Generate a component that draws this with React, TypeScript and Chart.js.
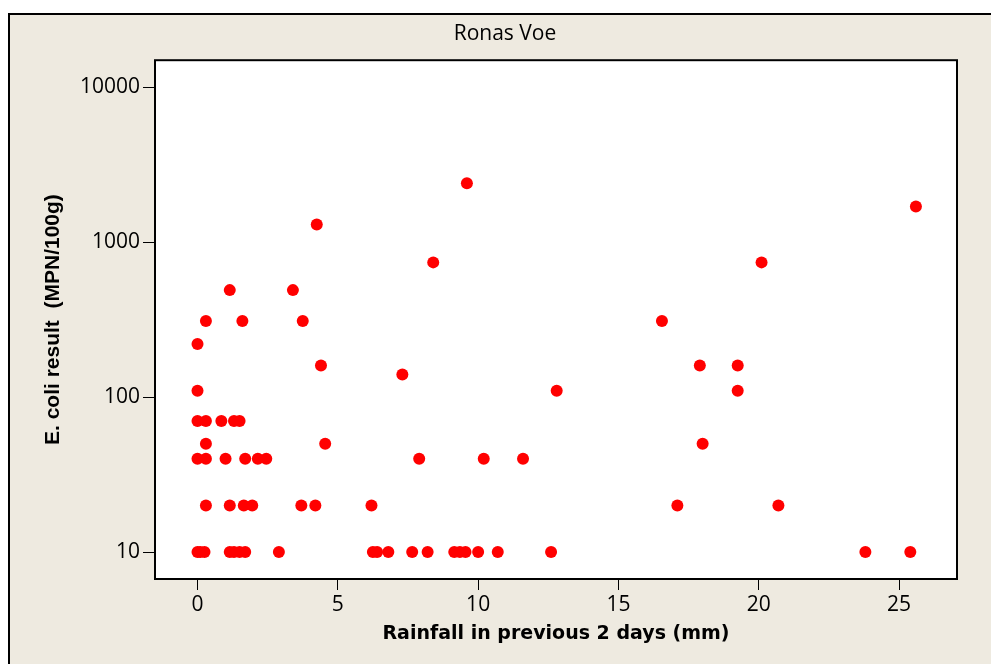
import React, { useEffect, useRef } from 'react';
import { Chart, registerables } from 'chart.js';

Chart.register(...registerables);

const chartTitle = 'Ronas Voe';
const xTitle = 'Rainfall in previous 2 days (mm)';
const yTitle = 'E. coli result  (MPN/100g)';

const rainfall = [
  0, 0, 0, 0.3, 0.85, 1.3, 1.5, 0.3, 4.55, 0, 0.3, 1.0, 1.7, 2.15, 2.45,
  0.3, 1.15, 1.65, 1.95, 3.7, 4.2, 6.2, 0, 0.1, 0.25, 1.15, 1.3, 1.5, 1.7, 2.9,
  1.15, 3.4, 0.3, 1.6, 3.75, 4.4, 4.25, 9.6, 8.4, 7.3, 12.8, 7.9, 10.2, 11.6,
  6.25, 6.4, 6.8, 7.65, 8.2, 9.15, 9.35, 9.55, 10.0, 10.7, 12.6,
  25.6, 20.1, 16.55, 17.9, 19.25, 19.25, 18.0, 17.1, 20.7, 23.8, 25.4,
];
const ecoli = [
  220, 110, 70, 70, 70, 70, 70, 50, 50, 40, 40, 40, 40, 40, 40,
  20, 20, 20, 20, 20, 20, 20, 10, 10, 10, 10, 10, 10, 10, 10,
  490, 490, 310, 310, 310, 160, 1300, 2400, 740, 140, 110, 40, 40, 40,
  10, 10, 10, 10, 10, 10, 10, 10, 10, 10, 10,
  1700, 740, 310, 160, 160, 110, 50, 20, 20, 10, 10,
];
const xTicks = [0, 5, 10, 15, 20, 25];
const yTicks = [10, 100, 1000, 10000];

const BG = '#EEEAE0';
const W = 991;
const H = 664;

const framePlugin = {
  id: 'frame',
  beforeDraw(chart: any) {
    const { ctx, width, height, chartArea } = chart;
    ctx.save();
    ctx.fillStyle = '#ffffff';
    ctx.fillRect(0, 0, width, height);
    ctx.fillStyle = BG;
    ctx.fillRect(8, 13, width - 8, height - 13);
    ctx.fillStyle = '#000000';
    ctx.fillRect(8, 13, 2, height - 13);
    ctx.fillRect(8, 13, width - 8, 2);
    ctx.fillStyle = '#ffffff';
    ctx.fillRect(chartArea.left, chartArea.top, chartArea.right - chartArea.left, chartArea.bottom - chartArea.top);
    ctx.restore();
  },
  afterDraw(chart: any) {
    const { ctx, chartArea } = chart;
    ctx.save();
    ctx.strokeStyle = '#000000';
    ctx.lineWidth = 2;
    ctx.strokeRect(chartArea.left + 1, chartArea.top + 1, chartArea.right - chartArea.left - 2, chartArea.bottom - chartArea.top - 2);
    ctx.restore();
  },
};

export default function App() {
  const ref = useRef<HTMLCanvasElement | null>(null);
  useEffect(() => {
    if (!ref.current) return;
    const points = rainfall.map((x, i) => ({ x, y: ecoli[i] }));
    const chart = new Chart(ref.current, {
      type: 'scatter',
      data: {
        datasets: [
          {
            data: points,
            backgroundColor: '#FF0000',
            borderColor: '#FF0000',
            borderWidth: 0,
            pointRadius: 6,
            pointHoverRadius: 6,
          },
        ],
      },
      options: {
        animation: false,
        responsive: false,
        devicePixelRatio: 1,
        layout: { padding: { left: 52, right: 33, top: 13, bottom: 14 } },
        plugins: {
          legend: { display: false },
          tooltip: { enabled: false },
          title: {
            display: true,
            text: chartTitle,
            color: '#000',
            font: { family: '"Open Sans", sans-serif', size: 21, weight: 'normal' },
            padding: { top: 8, bottom: 13 },
          },
        },
        scales: {
          x: {
            type: 'linear',
            min: -1.55,
            max: 27.1,
            afterBuildTicks: (s: any) => {
              s.ticks = xTicks.map((v) => ({ value: v }));
            },
            afterFit: (s: any) => {
              s.height = 70;
            },
            border: { display: false },
            grid: { drawOnChartArea: false, drawTicks: true, tickLength: 10, color: '#000', lineWidth: 1 },
            ticks: {
              color: '#000',
              padding: 2,
              maxRotation: 0,
              font: { family: '"Open Sans", sans-serif', size: 21 },
              callback: (v: any) => String(v),
            },
            title: {
              display: true,
              text: xTitle,
              color: '#000',
              font: { family: '"DejaVu Sans", sans-serif', size: 19, weight: 'bold' },
              padding: { top: 4, bottom: 5 },
            },
          },
          y: {
            type: 'logarithmic',
            min: 6.6,
            max: 15150,
            afterBuildTicks: (s: any) => {
              s.ticks = yTicks.map((v) => ({ value: v }));
            },
            afterFit: (s: any) => {
              s.width = 102;
            },
            border: { display: false },
            grid: { drawOnChartArea: false, drawTicks: true, tickLength: 11, color: '#000', lineWidth: 1 },
            ticks: {
              color: '#000',
              padding: 3,
              font: { family: '"Open Sans", sans-serif', size: 21 },
              callback: (v: any) => String(v),
            },
            title: {
              display: true,
              text: yTitle,
              color: '#000',
              font: { family: '"Liberation Sans", Arial, sans-serif', size: 21, weight: 'bold' },
              padding: { top: -11, bottom: 4 },
            },
          },
        },
      },
      plugins: [framePlugin],
    });
    return () => chart.destroy();
  }, []);
  return (
    <div style={{ position: 'fixed', left: 0, top: 0, width: W, height: H }}>
      <canvas ref={ref} width={W} height={H} style={{ display: 'block', width: W, height: H }} />
    </div>
  );
}
